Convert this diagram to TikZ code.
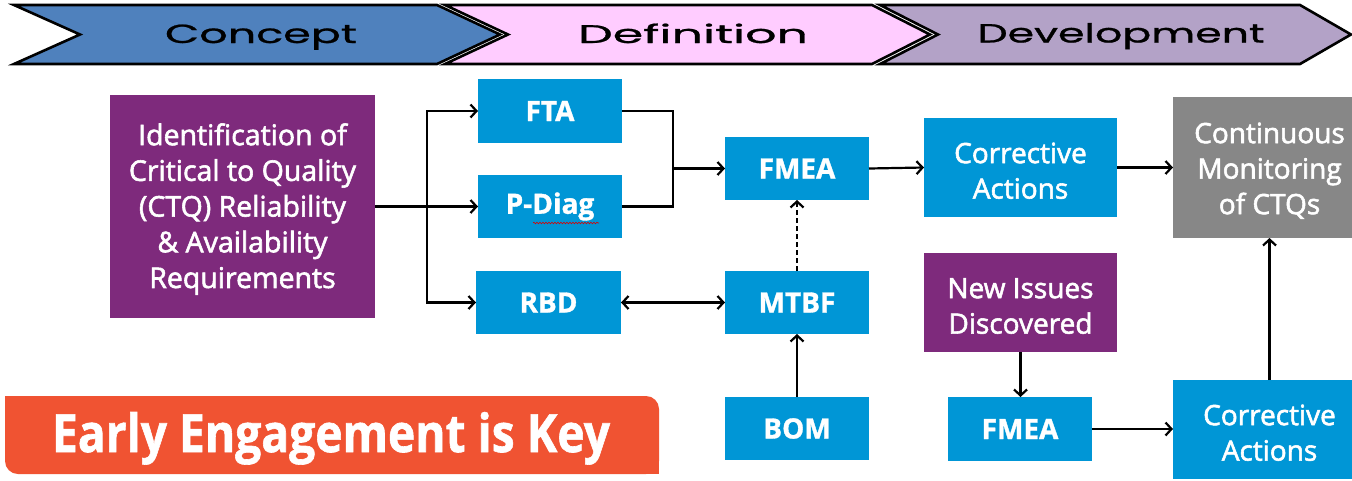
\documentclass[tikz,border=0pt]{standalone}
\usepackage{fontspec}
\setmainfont{Open Sans}[BoldFeatures={FakeBold=1.2}]
\newfontfamily\medfont{Open Sans}[FakeBold=2]
\newfontfamily\chevfont{Poppins}[FakeBold=0.8]
\usetikzlibrary{arrows.meta,decorations.pathmorphing}
\definecolor{hpblue}{HTML}{0096D6}
\definecolor{ctqpurple}{HTML}{7E2A7C}
\definecolor{ctqgray}{HTML}{878787}
\definecolor{keyorange}{HTML}{F05332}
\definecolor{conceptc}{HTML}{4F81BD}
\definecolor{defc}{HTML}{FFCCFF}
\definecolor{devc}{HTML}{B3A2C7}
\newcommand{\tstrut}{\rule{0pt}{27pt}}
\tikzset{
  chev/.style={draw=black, line width=2.6pt, line join=miter},
  chevtext/.style={anchor=base, inner sep=0pt, text=black},
  box/.style={inner sep=0pt, outer sep=0pt, text=white, align=center,
              font={\fontsize{28}{35.5}\selectfont\medfont}},
  bluebox/.style={box, fill=hpblue},
  purplebox/.style={box, fill=ctqpurple},
  graybox/.style={box, fill=ctqgray},
  boldlabel/.style={font={\fontsize{28}{34}\selectfont\rmfamily\bfseries}},
  arr/.style={draw=black, line width=2.2pt, -{Straight Barb[length=6pt,width=13pt,line width=2.2pt]}},
  biarr/.style={draw=black, line width=2.2pt, {Straight Barb[length=6pt,width=13pt,line width=2.2pt]}-{Straight Barb[length=6pt,width=13pt,line width=2.2pt]}},
  link/.style={draw=black, line width=2.2pt},
}
\begin{document}
\begin{tikzpicture}[x=1pt,y=-1pt]
\clip (0,0) rectangle (1352,480);
\fill[white] (0,0) rectangle (1352,480);

% phase chevrons
\path[chev, fill=conceptc] (14,5) -- (437,5) -- (500,34.5) -- (437,64) -- (14,64) -- (80,34.5) -- cycle;
\path[chev, fill=defc] (445,5) -- (872,5) -- (930,34.5) -- (872,64) -- (445,64) -- (508,34.5) -- cycle;
\path[chev, fill=devc] (880,5) -- (1300,5) -- (1351,34.5) -- (1300,64) -- (880,64) -- (938,34.5) -- cycle;
\node[chevtext] (tconcept) at (261,43) {\resizebox{192pt}{18.5pt}{\chevfont Concept}};
\node[chevtext] (tdef) at (693,43) {\resizebox{230pt}{19.5pt}{\chevfont Definition}};
\node[chevtext] (tdev) at (1121,42.5) {\resizebox{287pt}{19.5pt}{\chevfont Development}};

% boxes
\node[purplebox, font={\fontsize{28.5}{35.7}\selectfont\medfont}, minimum width=265pt, minimum height=223pt] (ident) at (242.5,206.5)
  {\tstrut Identification of\\Critical to Quality\\(CTQ) Reliability\\\& Availability\\Requirements};
\node[bluebox, boldlabel, minimum width=144pt, minimum height=64pt] (fta) at (550,111) {FTA};
\node[bluebox, boldlabel, minimum width=144pt, minimum height=63pt] (pdiag) at (550,206.5) {P-Diag};
\node[bluebox, boldlabel, minimum width=145pt, minimum height=63pt] (rbd) at (548.5,302.5) {RBD};
\node[bluebox, boldlabel, minimum width=144pt, minimum height=63pt] (fmeaa) at (797,168.5) {FMEA};
\node[bluebox, boldlabel, minimum width=144pt, minimum height=63pt] (mtbf) at (797,302.5) {MTBF};
\node[bluebox, boldlabel, minimum width=144pt, minimum height=63pt] (bom) at (797,428.5) {BOM};
\node[bluebox, minimum width=193pt, minimum height=99pt] (caa) at (1020.5,167.5) {\tstrut Corrective\\Actions};
\node[graybox, minimum width=193pt, minimum height=141pt] (cm) at (1269.5,167.5) {\tstrut Continuous\\Monitoring\\of CTQs};
\node[purplebox, minimum width=193pt, minimum height=99pt] (newi) at (1020.5,302.5) {\tstrut New Issues\\Discovered};
\node[bluebox, boldlabel, minimum width=144pt, minimum height=64pt] (fmeab) at (1020,429) {FMEA};
\node[bluebox, minimum width=193pt, minimum height=99pt] (cab) at (1269.5,429.5) {\tstrut Corrective\\Actions};

% spell-check squiggle under "Diag"
\draw[red!85!black, line width=0.6pt, decorate, decoration={snake, amplitude=0.8pt, segment length=3pt}] (533,223) -- (599,223);

% key banner
\node[fill=keyorange, rounded corners=13pt, minimum width=654pt, minimum height=78pt, inner sep=0pt] (key) at (332,435) {};
\fill[keyorange] (key.north west) rectangle ++(20,20);
\fill[keyorange] (key.south east) rectangle ++(-20,-20);
\node[anchor=base, inner sep=0pt, text=white] (keytext) at (331,452)
  {\resizebox{558pt}{40pt}{\bfseries Early Engagement is Key}};

% connectors
\coordinate (split) at (427,206.5);
\draw[arr] (ident.east) -- (pdiag.west);
\draw[arr] (split) |- (fta.west);
\draw[arr] (split) |- (rbd.west);
\coordinate (merge) at (673,168.5);
\draw[link] (fta.east) -| (merge);
\draw[link] (pdiag.east) -| (merge);
\draw[arr] (merge) -- (fmeaa.west);
\draw[biarr] (rbd.east) -- (mtbf.west);
\draw[arr, dash pattern=on 5pt off 3pt] (mtbf.north) -- (fmeaa.south);
\draw[arr] (bom.north) -- (mtbf.south);
\draw[arr] (fmeaa.east) -- (caa.west);
\draw[arr] (caa.east) -- (caa.east -| cm.west);
\draw[arr] (newi.south) -- (newi.south |- fmeab.north);
\draw[arr] (fmeab.east) -- (fmeab.east -| cab.west);
\draw[arr] (cab.north) -- (cm.south);
\end{tikzpicture}
\end{document}
